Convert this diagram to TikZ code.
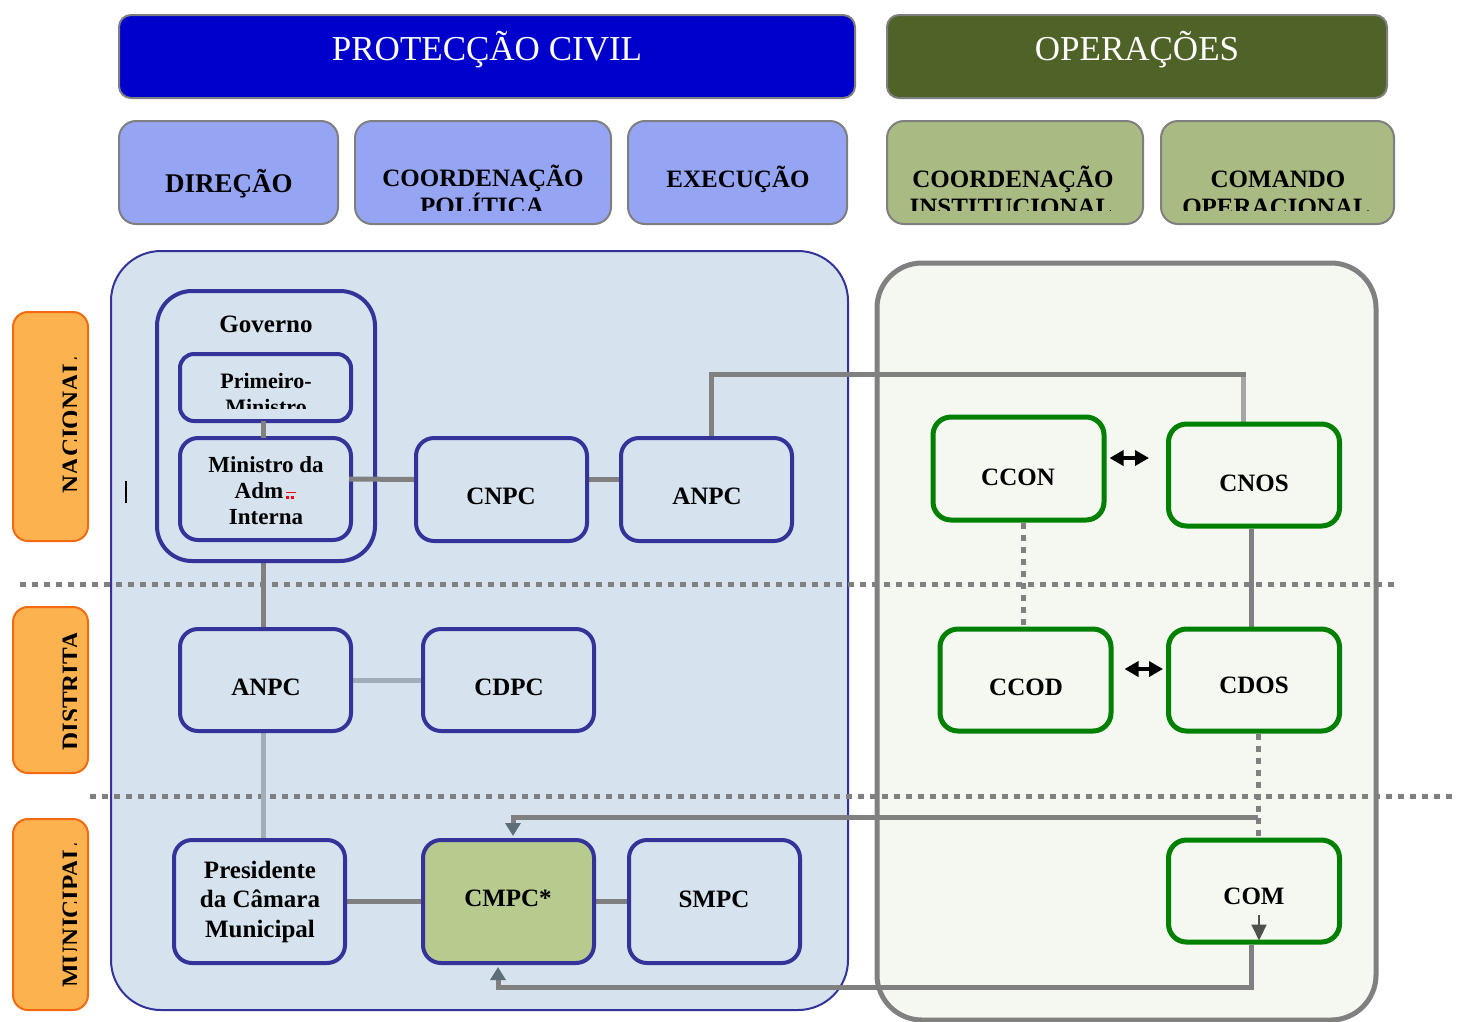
\documentclass[tikz,border=0pt]{standalone}
\usepackage{fontspec}
\setmainfont{Liberation Serif}
\usetikzlibrary{arrows.meta}
\pgfdeclarelayer{bg}
\pgfdeclarelayer{mid}
\pgfsetlayers{bg,mid,main}
\definecolor{hdrblue}{HTML}{0000CC}
\definecolor{hdrolive}{HTML}{4F6228}
\definecolor{hdrborder}{HTML}{7F7F7F}
\definecolor{subblue}{HTML}{96A5F3}
\definecolor{subgreen}{HTML}{A9BA83}
\definecolor{orfill}{HTML}{FBB24F}
\definecolor{orborder}{HTML}{F36A10}
\definecolor{lightbg}{HTML}{D6E3EE}
\definecolor{rightbg}{HTML}{F5F8F1}
\definecolor{nodeblue}{HTML}{333399}
\definecolor{nodegreen}{HTML}{008000}
\definecolor{cmpcfill}{HTML}{B8CB8E}
\definecolor{conngray}{HTML}{808080}
\definecolor{connlight}{HTML}{A1AEB8}
\definecolor{cnosl}{HTML}{A6A6A6}
\definecolor{tipc}{HTML}{5E6E79}
\definecolor{comarr}{HTML}{4D524D}
\newcommand{\myfs}[2]{\fontsize{#1}{#2}\selectfont}
\tikzset{
  hdr/.style={draw=hdrborder, line width=2pt, rounded corners=12pt, inner sep=0pt},
  subhdr/.style={draw=hdrborder, line width=2pt, rounded corners=17pt, inner sep=0pt, minimum height=103pt},
  orng/.style={draw=orborder, line width=2pt, fill=orfill, rounded corners=15pt, inner sep=0pt, minimum width=75pt},
  bnode/.style={draw=nodeblue, line width=4pt, fill=lightbg, rounded corners=18pt, inner sep=0pt, minimum width=171pt},
  gnode/.style={draw=nodegreen, line width=5pt, fill=rightbg, rounded corners=18pt, inner sep=0pt, minimum width=171pt, minimum height=102pt},
  txt/.style={inner sep=0pt, anchor=base, font=\myfs{25}{30}\bfseries},
  hdrtxt/.style={inner sep=0pt, anchor=base, text=white, font=\myfs{35}{40}},
  conn/.style={draw=conngray, line width=5pt},
  connl/.style={draw=connlight, line width=5pt},
  dotl/.style={draw=conngray, line width=5pt, dash pattern=on 6pt off 6pt},
  dbl/.style={line width=4pt, {Triangle[width=15pt,length=14pt]}-{Triangle[width=15pt,length=14pt]}},
}
\begin{document}
\begin{tikzpicture}[x=1pt,y=1pt]
\useasboundingbox (0,0) rectangle (1458,-1021);

% ---- big areas
\begin{pgfonlayer}{bg}
\node[draw=nodeblue, line width=2pt, fill=lightbg, rounded corners=50pt, minimum width=737pt, minimum height=759pt, inner sep=0pt] (pcarea) at (479.5,-630.5) {};
\node[draw=conngray, line width=5pt, fill=rightbg, rounded corners=45pt, minimum width=499pt, minimum height=757pt, inner sep=0pt] (oparea) at (1126.5,-641.5) {};
\end{pgfonlayer}

% ---- headers
\node[hdr, fill=hdrblue, minimum width=736pt, minimum height=83pt] (pc) at (487,-56.5) {};
\node[hdrtxt] (pct) at (487,-60) {PROTECÇÃO CIVIL};
\node[hdr, fill=hdrolive, minimum width=500pt, minimum height=83pt] (op) at (1137,-56.5) {};
\node[hdrtxt] (opt) at (1137,-60) {OPERAÇÕES};

% ---- sub headers
\node[subhdr, fill=subblue, minimum width=219pt] (dir) at (228.5,-172.5) {};
\node[txt, font=\myfs{27}{30}\bfseries] (dirt) at (229,-192) {DIREÇÃO};
\node[subhdr, fill=subblue, minimum width=256pt] (cpol) at (483,-172.5) {};
\begin{scope}
  \clip (355,-121) rectangle (611,-210);
  \node[txt] (cpolt1) at (483,-186) {COORDENAÇÃO};
  \node[txt] (cpolt2) at (482,-214) {POLÍTICA};
\end{scope}
\node[subhdr, fill=subblue, minimum width=219pt] (exe) at (737.5,-172.5) {};
\node[txt] (exet) at (738,-187) {EXECUÇÃO};
\node[subhdr, fill=subgreen, minimum width=256pt] (cins) at (1015,-172.5) {};
\begin{scope}
  \clip (887,-121) rectangle (1143,-210);
  \node[txt] (cinst1) at (1013,-187) {COORDENAÇÃO};
  \node[txt] (cinst2) at (1011,-215) {INSTITUCIONAL};
\end{scope}
\node[subhdr, fill=subgreen, minimum width=233pt] (cop) at (1277.5,-172.5) {};
\begin{scope}
  \clip (1161,-121) rectangle (1394,-210);
  \node[txt] (copt1) at (1278,-187) {COMANDO};
  \node[txt] (copt2) at (1276,-215) {OPERACIONAL};
\end{scope}

% ---- level labels
\node[orng, minimum height=229pt] (nac) at (50.5,-426.5) {};
\node[orng, minimum height=166pt] (dis) at (50.5,-690) {};
\node[orng, minimum height=191pt] (mun) at (50.5,-914.5) {};
\begin{scope}
  \clip (13,-312) rectangle (76.5,-1010);
  \node[txt, rotate=90] (nact) at (79,-425) {NACIONAL};
  \node[txt, rotate=90] (dist) at (79,-691) {DISTRITA};
  \node[txt, rotate=90] (munt) at (79,-915) {MUNICIPAL};
\end{scope}

% ---- Proteccao civil nodes
\node[bnode, minimum width=218pt, minimum height=270pt, rounded corners=35pt] (gov) at (266,-426) {};
\node[txt] (govt) at (266,-332) {Governo};
\node[bnode, minimum height=67pt, rounded corners=14pt] (pm) at (265.5,-387.5) {};
\begin{scope}
  \clip (182,-356) rectangle (349,-408);
  \node[txt, font=\myfs{22}{26}\bfseries] (pmt1) at (266,-388) {Primeiro-};
  \node[txt, font=\myfs{22}{26}\bfseries] (pmt2) at (266,-414) {Ministro};
\end{scope}
\node[bnode, minimum height=102pt] (mai) at (265.5,-489) {};
\node[inner sep=0pt, align=center, font=\myfs{23}{26}\bfseries] (mait) at (266,-491) {Ministro da\\Adm\rule{14pt}{0pt}\\Interna};
\draw[red, line width=1pt] (286,-492.7) -- (296,-492.7);
\fill[red] (286,-496) rectangle ++(2.5,-2.5);
\fill[red] (291,-496) rectangle ++(2.5,-2.5);
\draw[line width=1.5pt] (126,-481) -- (126,-503);

\node[bnode, minimum height=103pt] (cnpc) at (501.5,-489.5) {};
\node[txt] (cnpct) at (501,-504) {CNPC};
\node[bnode, minimum height=103pt] (anpca) at (706.5,-489.5) {};
\node[txt] (anpcat) at (707,-504) {ANPC};
\node[bnode, minimum height=102pt] (anpcb) at (265.5,-680) {};
\node[txt] (anpcbt) at (266,-695) {ANPC};
\node[bnode, minimum height=102pt] (cdpc) at (508.5,-680) {};
\node[txt] (cdpct) at (509,-695) {CDPC};
\node[bnode, minimum height=123pt] (pres) at (259.5,-901.5) {};
\node[inner sep=0pt, align=center, font=\myfs{25}{29.5}\bfseries] (prest) at (260,-901.5) {Presidente\\da Câmara\\Municipal};
\node[bnode, minimum height=123pt, fill=cmpcfill] (cmpc) at (508.5,-901.5) {};
\node[txt] (cmpct) at (508,-906) {CMPC*};
\node[bnode, minimum height=123pt] (smpc) at (714.5,-901.5) {};
\node[txt] (smpct) at (714,-907.5) {SMPC};

% connectors drawn over the Governo group
\draw[conn] ([xshift=-2.5pt,yshift=2pt]pm.south) -- ([xshift=-2.5pt,yshift=-2pt]mai.north);
\draw[conn] ([xshift=-4pt,yshift=10pt]mai.east) -- ([yshift=10pt]cnpc.west);

% ---- Operacoes nodes
\node[gnode, minimum height=103pt] (ccon) at (1018.5,-468.5) {};
\node[txt] (ccont) at (1018,-485) {CCON};
\node[gnode] (cnos) at (1254,-475) {};
\node[txt] (cnost) at (1254,-491.5) {CNOS};
\node[gnode] (ccod) at (1025.5,-680) {};
\node[txt] (ccodt) at (1026,-695) {CCOD};
\node[gnode] (cdos) at (1254,-680) {};
\node[txt] (cdost) at (1254,-693) {CDOS};
\node[gnode] (com) at (1254,-891) {};
\node[txt] (comt) at (1254,-904) {COM};

% ---- separators and connectors
\begin{pgfonlayer}{mid}
\coordinate (d1a) at (20,-584);
\coordinate (d1b) at (1395,-584);
\coordinate (d2a) at (90,-796);
\coordinate (d2b) at (1458,-796);
\draw[dotl] (d1a) -- (d1b);
\draw[dotl] (d2a) -- (d2b);

\draw[conn] ([yshift=10pt]cnpc.east) -- ([yshift=10pt]anpca.west);
\coordinate (k1) at (1243,-374);
\draw[conn] ([xshift=4.5pt]anpca.north) |- ([xshift=2.5pt]k1);
\draw[draw=cnosl, line width=5pt] ([yshift=-2.5pt]k1) -- (k1 |- cnos.north);
\draw[conn] ([xshift=-3pt]gov.south) -- ([xshift=-2.5pt]anpcb.north);
\draw[connl] (anpcb.east) -- (cdpc.west);
\draw[connl] ([xshift=-2.5pt]anpcb.south) -- ([xshift=3.5pt]pres.north);
\draw[conn] (pres.east) -- (cmpc.west);
\draw[conn] (cmpc.east) -- (smpc.west);
\draw[conn] ([xshift=-3pt]cnos.south) -- ([xshift=-3pt]cdos.north);
\draw[dotl] ([xshift=4.5pt]ccon.south) -- ([xshift=-2.5pt]ccod.north);
\draw[dotl] ([xshift=4pt]cdos.south) -- ([xshift=4pt]com.north);
\coordinate (j1) at (1258,-817);
\draw[conn, -{Triangle[width=15pt,length=13pt,color=tipc]}] (j1) -| ([xshift=4.5pt,yshift=2pt]cmpc.north);
\draw[conn, -{Triangle[width=15pt,length=13pt,color=tipc]}] ([xshift=-3pt]com.south) -- ++(0,-43) -| ([xshift=-10.5pt,yshift=-2pt]cmpc.south);
\end{pgfonlayer}

% ---- arrows on top
\draw[dbl] ([xshift=3pt,yshift=10.5pt]ccon.east) -- ([xshift=-17pt,yshift=17pt]cnos.west);
\draw[dbl] ([xshift=11pt,yshift=11pt]ccod.east) -- ([xshift=-3pt,yshift=11pt]cdos.west);
\draw[draw=comarr, line width=2pt, -{Triangle[width=15pt,length=16pt]}] ([xshift=5pt,yshift=-24pt]com.center) -- ([xshift=5pt,yshift=4pt]com.south);
\end{tikzpicture}
\end{document}
